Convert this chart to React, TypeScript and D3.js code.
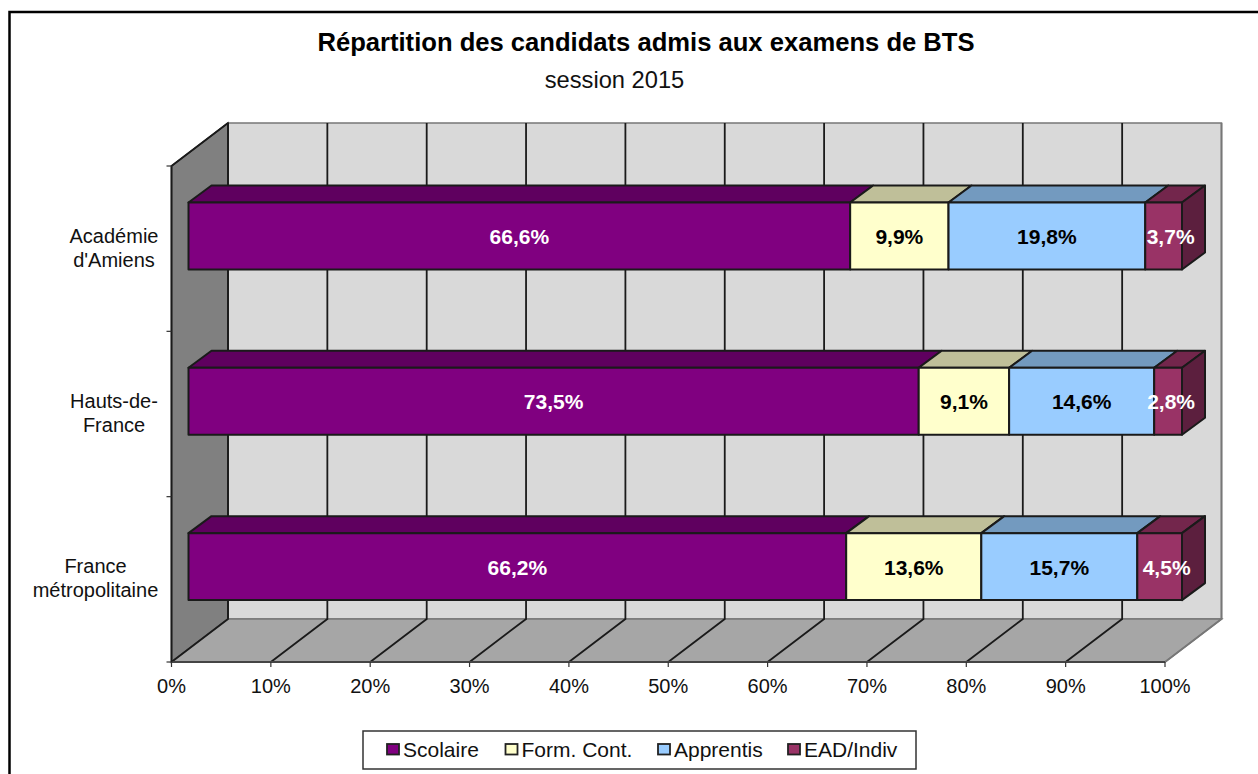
import React from 'react';
import * as d3 from 'd3';

const width = 1258;
const height = 774;

const categories = ["Académie d'Amiens", 'Hauts-de-France', 'France métropolitaine'];
const categoryLines = [["Académie", "d'Amiens"], ['Hauts-de-', 'France'], ['France', 'métropolitaine']];
const categoryCenters = [114, 114, 95.5];
const seriesNames = ['Scolaire', 'Form. Cont.', 'Apprentis', 'EAD/Indiv'];
const scolaire = [66.6, 73.5, 66.2];
const formCont = [9.9, 9.1, 13.6];
const apprentis = [19.8, 14.6, 15.7];
const eadIndiv = [3.7, 2.8, 4.5];
const seriesValues = [scolaire, formCont, apprentis, eadIndiv];
const ticks = d3.range(0, 101, 10);

const frontColors = ['#800080', '#ffffcc', '#99ccff', '#993366'];
const topColors = ['#5f005f', '#bfbf99', '#739abf', '#73264c'];
const sideColor = '#5c1f3e';
const labelColors = ['#fff', '#000', '#000', '#fff'];

const font = '"Liberation Sans", Arial, sans-serif';
const stroke = '#1a1a1a';

// 3D box : front plane, back wall offset, bar depth
const x0 = 171.5;
const x1 = 1165;
const yTop = 166;
const yBottom = 662;
const wall = { dx: 56.5, dy: -43 };
const barShift = { dx: 17, dy: -12.7 };
const depth = { dx: 23, dy: -17 };

const x = d3.scaleLinear().domain([0, 100]).range([x0, x1]);
const y = d3.scaleBand<string>()
  .domain(categories)
  .range([yTop, yBottom])
  .paddingInner(0.595)
  .paddingOuter(0.2975);

// last segment's label sits off centre, pushed towards the side face
const eadLabelShift = [7, 3, 7];
const legendX = [387, 505.5, 658, 788];

const poly = (pts: number[][]) => d3.line()(pts as [number, number][]) + 'Z';

export default function App() {
  const bars = categories.map((cat, c) => {
    const yFront = (y(cat) as number) + barShift.dy;
    const h = y.bandwidth();
    let cum = 0;
    return seriesValues.map((vals, s) => {
      const a = x(cum) + barShift.dx;
      cum += vals[c];
      const b = x(cum) + barShift.dx;
      return { cat, s, a, b, yFront, h, value: vals[c] };
    });
  });

  return (
    <svg width={width} height={height} style={{ position: 'absolute', left: 0, top: 0 }} fontFamily={font}>
      <rect x={0} y={0} width={width} height={height} fill="#fff" />
      <path d={`M9.5 ${height + 5}V12H${width + 5}`} fill="none" stroke="#000" strokeWidth={2.5} />

      <text x={646} y={51} textAnchor="middle" fontSize={25.6} fontWeight="bold" fill="#000">
        Répartition des candidats admis aux examens de BTS
      </text>
      <text x={614.5} y={88} textAnchor="middle" fontSize={23.7} fill="#111">session 2015</text>

      {/* walls */}
      <path
        d={poly([[x0 + wall.dx, yTop + wall.dy], [x1 + wall.dx, yTop + wall.dy], [x1 + wall.dx, yBottom + wall.dy], [x0 + wall.dx, yBottom + wall.dy]])}
        fill="#d9d9d9" stroke="#777" strokeWidth={1.5}
      />
      <path
        d={poly([[x0, yTop], [x0 + wall.dx, yTop + wall.dy], [x0 + wall.dx, yBottom + wall.dy], [x0, yBottom]])}
        fill="#808080" stroke="#222" strokeWidth={1.5}
      />
      <path
        d={poly([[x0, yBottom], [x0 + wall.dx, yBottom + wall.dy], [x1 + wall.dx, yBottom + wall.dy], [x1, yBottom]])}
        fill="#a6a6a6" stroke="#777" strokeWidth={1.5}
      />

      {/* gridlines */}
      {ticks.map((t) => (
        <g key={t} fill="none" stroke={t === 100 ? '#777' : stroke} strokeWidth={1.8}>
          <path d={`M${x(t)} ${yBottom}L${x(t) + wall.dx} ${yBottom + wall.dy}V${yTop + wall.dy}`} />
        </g>
      ))}
      <path d={`M${x0} ${yBottom}H${x1}`} stroke="#444" strokeWidth={2} fill="none" />
      <path d={`M${x0} ${yBottom}V${yTop}L${x0 + wall.dx} ${yTop + wall.dy}`} stroke={stroke} strokeWidth={1.8} fill="none" />

      {/* axis ticks */}
      {ticks.map((t) => (
        <g key={t}>
          <path d={`M${x(t)} ${yBottom}v5`} stroke="#333" strokeWidth={1.2} />
          <text x={x(t)} y={693} textAnchor="middle" fontSize={20} fill="#111">{t}%</text>
        </g>
      ))}
      {d3.range(4).map((i) => {
        const ty = yTop + ((yBottom - yTop) / 3) * i;
        return <path key={i} d={`M${x0 - 5} ${ty}H${x0}`} stroke="#333" strokeWidth={1.2} />;
      })}

      {/* category labels */}
      {categories.map((cat, c) => {
        const cy = (y(cat) as number) + y.bandwidth() / 2;
        return categoryLines[c].map((line, l) => (
          <text key={line} x={categoryCenters[c]} y={cy - 6 + l * 24} textAnchor="middle" fontSize={20} fill="#111">
            {line}
          </text>
        ));
      })}

      {/* stacked bars */}
      {bars.map((segments, c) => (
        <g key={c} stroke={stroke} strokeWidth={2} strokeLinejoin="round">
          {segments.map((d) => (
            <path key={d.s} fill={topColors[d.s]}
              d={poly([[d.a, d.yFront], [d.a + depth.dx, d.yFront + depth.dy], [d.b + depth.dx, d.yFront + depth.dy], [d.b, d.yFront]])} />
          ))}
          {segments.map((d) => (
            <rect key={d.s} x={d.a} y={d.yFront} width={d.b - d.a} height={d.h} fill={frontColors[d.s]} />
          ))}
          {segments.filter((d) => d.s === seriesNames.length - 1).map((d) => (
            <path key={d.s} fill={sideColor}
              d={poly([[d.b, d.yFront], [d.b + depth.dx, d.yFront + depth.dy], [d.b + depth.dx, d.yFront + d.h + depth.dy], [d.b, d.yFront + d.h]])} />
          ))}
          {segments.map((d) => (
            <text key={d.s} x={(d.a + d.b) / 2 + (d.s === 3 ? eadLabelShift[c] : 0)} y={d.yFront + d.h / 2 + 8} textAnchor="middle"
              fontSize={21} fontWeight="bold" stroke="none" fill={labelColors[d.s]}>
              {d.value.toFixed(1).replace('.', ',')}%
            </text>
          ))}
        </g>
      ))}

      {/* legend */}
      <rect x={363} y={731} width={553} height={38} fill="#fff" stroke="#333" strokeWidth={1.5} />
      {seriesNames.map((name, i) => (
        <g key={name}>
          <rect x={legendX[i]} y={744} width={12} height={10.5} fill={frontColors[i]} stroke="#222" strokeWidth={1.8} />
          <text x={legendX[i] + 16} y={756.5} fontSize={21} fill="#111">{name}</text>
        </g>
      ))}
    </svg>
  );
}
